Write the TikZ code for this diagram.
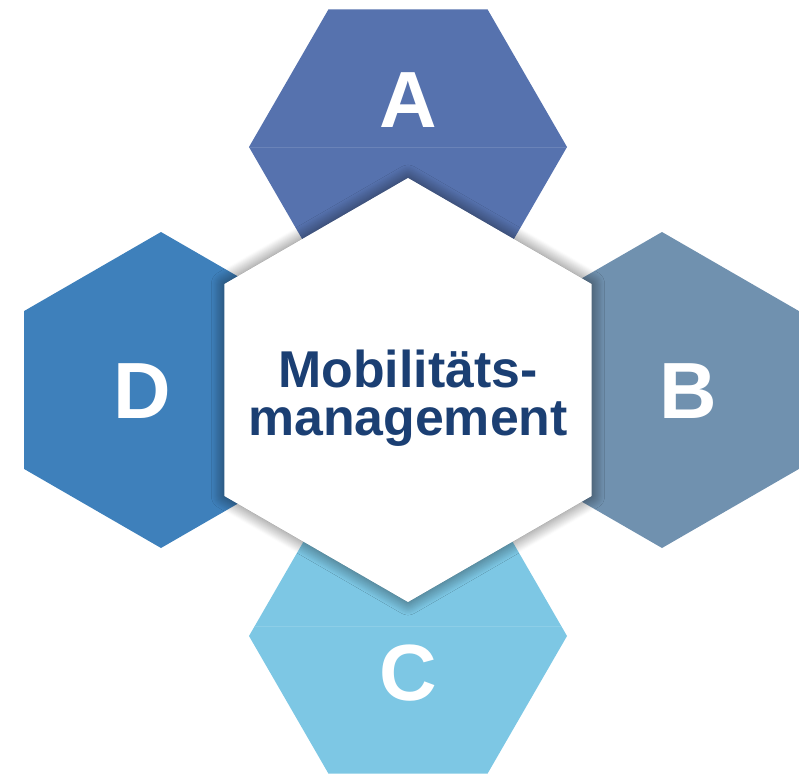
\documentclass[tikz,border=0pt]{standalone}
\usepackage{fontspec}
\setmainfont{Liberation Sans}
\usetikzlibrary{shapes.geometric,shadows.blur,calc}
\definecolor{colA}{HTML}{5672AE}
\definecolor{colB}{HTML}{7091AF}
\definecolor{colC}{HTML}{7DC7E4}
\definecolor{colD}{HTML}{3E80BB}
\definecolor{navy}{HTML}{1B3F73}
\tikzset{
  hexflat/.style={regular polygon, regular polygon sides=6, minimum size=318bp, inner sep=0pt, outer sep=0pt, draw=none},
  hexpoint/.style={regular polygon, regular polygon sides=6, shape border rotate=30, minimum size=316bp, inner sep=0pt, outer sep=0pt, draw=none},
  letter/.style={text=white, font=\bfseries\fontsize{80}{80}\selectfont, inner sep=0pt},
  fold/.style={line width=1bp},
}
\begin{document}
\begin{tikzpicture}[x=1bp,y=-1bp]
\useasboundingbox (0,0) rectangle (810,775);
\node[hexflat, fill=colA] (A) at (408,147) {};
\node[hexflat, fill=colC] (C) at (408,636) {};
\node[hexpoint, fill=colD] (D) at (161,390) {};
\node[hexpoint, fill=colB] (B) at (662,390) {};
\draw[fold, draw=colA!88!white] (A.west) -- (A.east);
\draw[fold, draw=colC!88!white] ($(C.west)+(6,-10)$) -- ($(C.east)+(-6,-10)$);
\node[regular polygon, regular polygon sides=6, shape border rotate=30, minimum size=424bp, inner sep=0pt, outer sep=0pt, fill=white,
      blur shadow={shadow xshift=0bp, shadow yshift=0bp, shadow blur radius=13bp, shadow opacity=60, shadow blur steps=14}] (M) at (408,390) {};
\node[text=navy, font=\bfseries\fontsize{52}{48}\selectfont, align=center, inner sep=0pt] (T) at (408,398) {Mobilitäts-\\management};
\node[letter] (lA) at (408,100) {A};
\node[letter] (lB) at (688,391) {B};
\node[letter] (lC) at (408,673) {C};
\node[letter] (lD) at (142,391) {D};
\end{tikzpicture}
\end{document}
